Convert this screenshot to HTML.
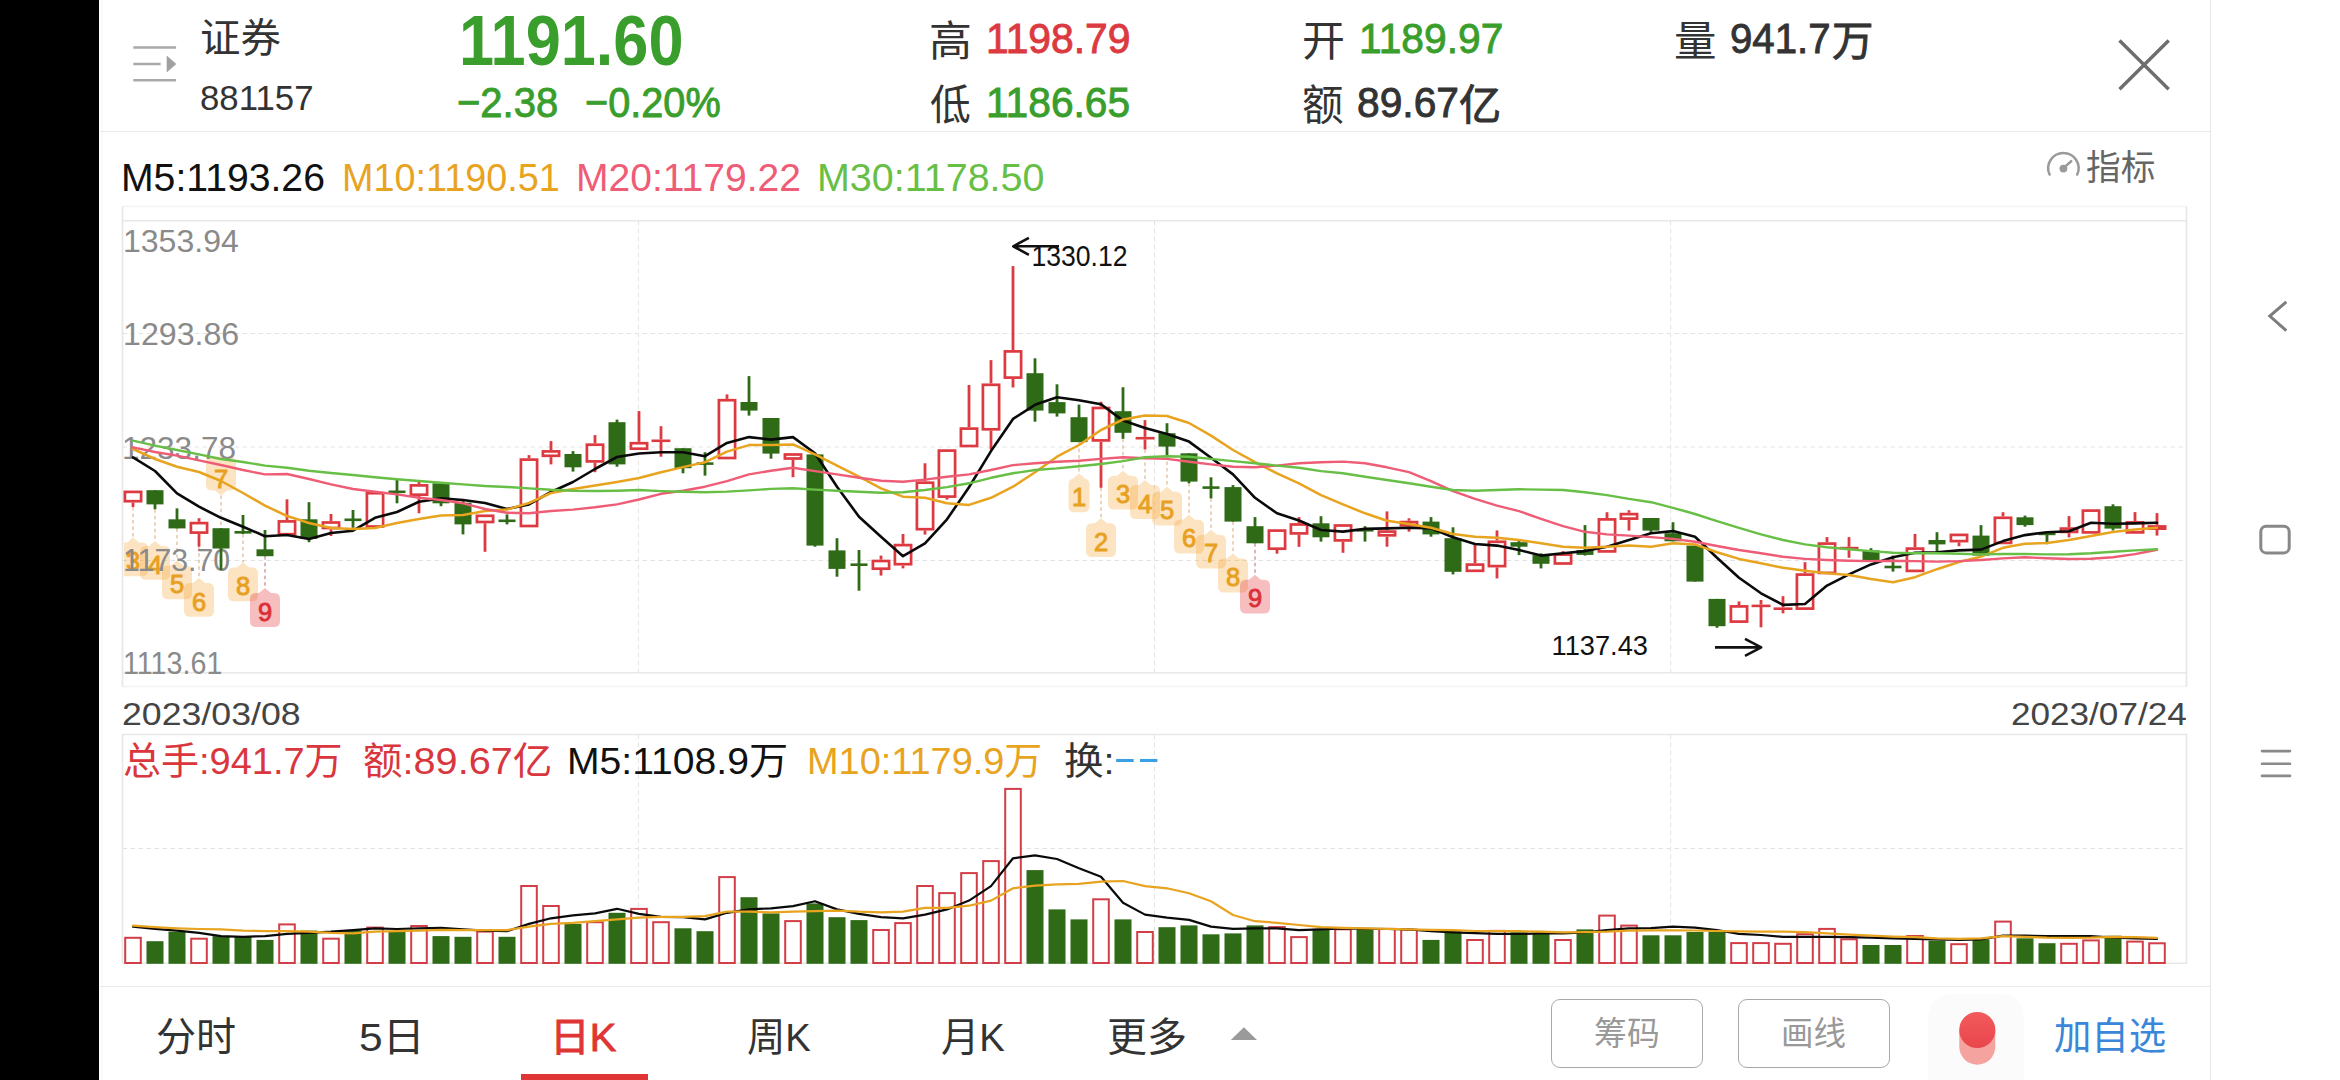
<!DOCTYPE html>
<html lang="zh-CN"><head><meta charset="utf-8"><title>证券 881157 日K</title>
<style>
*{margin:0;padding:0;box-sizing:border-box}
html,body{width:2340px;height:1080px;overflow:hidden;background:#fff}
body{position:relative;font-family:"Liberation Sans","Noto Sans CJK SC",sans-serif;color:#333}
.left{position:absolute;left:0;top:0;width:99px;height:1080px;background:#000}
.edge{position:absolute;left:100.5px;top:0;width:2px;height:1080px;background:#fafafa}
.hline{position:absolute;left:100px;width:2110px;height:1.6px;background:#e9e9e9}
.vline{position:absolute;left:2209.5px;top:0;width:1.6px;height:1080px;background:#e6e6e6}
.chart{position:absolute;left:0;top:0}
.chart text{font-family:"Liberation Sans","Noto Sans CJK SC",sans-serif}
.t{position:absolute;white-space:nowrap;line-height:1;transform-origin:0 0;display:block}
.t.b{font-weight:700}
.t.m{-webkit-text-stroke:0.9px currentColor}
.btn{position:absolute;top:998.5px;height:69px;width:152px;border:1.6px solid #a9a9a9;border-radius:9px;background:#fff}
.tabline{position:absolute;left:520.5px;top:1074px;width:127px;height:6px;background:#e03535}
.ico{position:absolute;left:0;top:0}
</style></head>
<body>
<div class="left"></div><div class="edge"></div>
<div class="hline" style="top:130.5px"></div>
<div class="hline" style="top:985.5px"></div>
<div class="vline"></div>
<svg class="chart" width="2340" height="1080" viewBox="0 0 2340 1080">
<g fill="none" stroke="#f3f3f3" stroke-width="1.5"><path d="M122.5 206.5H2186.5V686.5H122.5Z"/></g>
<g fill="none" stroke="#e8e8e8" stroke-width="1.6"><path d="M122.5 220.8H2186.5M122.5 672.8H2186.5M122.5 206.5V686.5M2186.5 206.5V686.5"/></g>
<g fill="none" stroke="#e2e2e2" stroke-width="1" stroke-dasharray="4.5 3.5">
<path d="M122.5 333.5H2186.5"/>
<path d="M122.5 447H2186.5"/>
<path d="M122.5 560.5H2186.5"/>
<path d="M638.4 220.8V672.8"/>
<path d="M638.4 734.5V963"/>
<path d="M1154.5 220.8V672.8"/>
<path d="M1154.5 734.5V963"/>
<path d="M1670.6 220.8V672.8"/>
<path d="M1670.6 734.5V963"/>
<path d="M122.5 848.5H2186.5"/>
</g>
<g fill="none" stroke="#e8e8e8" stroke-width="1.6"><path d="M122.5 734.5H2186.5V963.2H122.5Z"/></g>
<defs><clipPath id="cp"><rect x="124" y="221.5" width="2062" height="451"/></clipPath></defs>
<g class="td" clip-path="url(#cp)">
<path d="M133 507V537.5" stroke="#d9a878" stroke-width="1" stroke-dasharray="3.5 3" fill="none"/>
<path d="M155 509.3V541" stroke="#d9a878" stroke-width="1" stroke-dasharray="3.5 3" fill="none"/>
<path d="M177 528.4V560.5" stroke="#d9a878" stroke-width="1" stroke-dasharray="3.5 3" fill="none"/>
<path d="M199 546.7V578" stroke="#d9a878" stroke-width="1" stroke-dasharray="3.5 3" fill="none"/>
<path d="M221 495.6V528.2" stroke="#d9a878" stroke-width="1" stroke-dasharray="3.5 3" fill="none"/>
<path d="M243 534V562.5" stroke="#d9a878" stroke-width="1" stroke-dasharray="3.5 3" fill="none"/>
<path d="M265 556.2V588.1" stroke="#c0666a" stroke-width="1" stroke-dasharray="3.5 3" fill="none"/>
<path d="M1079 442.1V473.4" stroke="#d9a878" stroke-width="1" stroke-dasharray="3.5 3" fill="none"/>
<path d="M1101 487.8V518.3" stroke="#d9a878" stroke-width="1" stroke-dasharray="3.5 3" fill="none"/>
<path d="M1123 438.8V470.8" stroke="#d9a878" stroke-width="1" stroke-dasharray="3.5 3" fill="none"/>
<path d="M1145 449.4V480.1" stroke="#d9a878" stroke-width="1" stroke-dasharray="3.5 3" fill="none"/>
<path d="M1167 455V486.7" stroke="#d9a878" stroke-width="1" stroke-dasharray="3.5 3" fill="none"/>
<path d="M1189 483.3V514.8" stroke="#d9a878" stroke-width="1" stroke-dasharray="3.5 3" fill="none"/>
<path d="M1211 498.4V529.8" stroke="#d9a878" stroke-width="1" stroke-dasharray="3.5 3" fill="none"/>
<path d="M1233 521.6V553.6" stroke="#d9a878" stroke-width="1" stroke-dasharray="3.5 3" fill="none"/>
<path d="M1255 543.3V574.7" stroke="#c0666a" stroke-width="1" stroke-dasharray="3.5 3" fill="none"/>
<path d="M124 542.5H127L133 537.5L139 542.5H142Q148 542.5 148 548.5V570.3Q148 576.3 142 576.3H124Q118 576.3 118 570.3V548.5Q118 542.5 124 542.5Z" fill="rgba(247,168,62,0.32)"/>
<text x="133" y="570" text-anchor="middle" font-size="25.5" font-weight="400" fill="#e8a020" stroke="#e8a020" stroke-width="0.9">3</text>
<path d="M146 546H149L155 541L161 546H164Q170 546 170 552V573.8Q170 579.8 164 579.8H146Q140 579.8 140 573.8V552Q140 546 146 546Z" fill="rgba(247,168,62,0.32)"/>
<text x="155" y="573.5" text-anchor="middle" font-size="25.5" font-weight="400" fill="#e8a020" stroke="#e8a020" stroke-width="0.9">4</text>
<path d="M168 565.5H171L177 560.5L183 565.5H186Q192 565.5 192 571.5V593.3Q192 599.3 186 599.3H168Q162 599.3 162 593.3V571.5Q162 565.5 168 565.5Z" fill="rgba(247,168,62,0.32)"/>
<text x="177" y="593" text-anchor="middle" font-size="25.5" font-weight="400" fill="#e8a020" stroke="#e8a020" stroke-width="0.9">5</text>
<path d="M190 583H193L199 578L205 583H208Q214 583 214 589V610.8Q214 616.8 208 616.8H190Q184 616.8 184 610.8V589Q184 583 190 583Z" fill="rgba(247,168,62,0.32)"/>
<text x="199" y="610.5" text-anchor="middle" font-size="25.5" font-weight="400" fill="#e8a020" stroke="#e8a020" stroke-width="0.9">6</text>
<path d="M212 456.8H230Q236 456.8 236 462.8V484.6Q236 490.6 230 490.6H227L221 495.6L215 490.6H212Q206 490.6 206 484.6V462.8Q206 456.8 212 456.8Z" fill="rgba(247,168,62,0.32)"/>
<text x="221" y="488.4" text-anchor="middle" font-size="25.5" font-weight="400" fill="#e8a020" stroke="#e8a020" stroke-width="0.9">7</text>
<path d="M234 567.5H237L243 562.5L249 567.5H252Q258 567.5 258 573.5V595.3Q258 601.3 252 601.3H234Q228 601.3 228 595.3V573.5Q228 567.5 234 567.5Z" fill="rgba(247,168,62,0.32)"/>
<text x="243" y="595" text-anchor="middle" font-size="25.5" font-weight="400" fill="#e8a020" stroke="#e8a020" stroke-width="0.9">8</text>
<path d="M256 593.1H259L265 588.1L271 593.1H274Q280 593.1 280 599.1V620.9Q280 626.9 274 626.9H256Q250 626.9 250 620.9V599.1Q250 593.1 256 593.1Z" fill="rgba(226,52,56,0.32)"/>
<text x="265" y="620.6" text-anchor="middle" font-size="25.5" font-weight="400" fill="#dc3038" stroke="#dc3038" stroke-width="0.9">9</text>
<path d="M1074.5 478.4H1073L1079 473.4L1085 478.4H1083.5Q1089.5 478.4 1089.5 484.4V506.2Q1089.5 512.2 1083.5 512.2H1074.5Q1068.5 512.2 1068.5 506.2V484.4Q1068.5 478.4 1074.5 478.4Z" fill="rgba(247,168,62,0.32)"/>
<text x="1079" y="505.9" text-anchor="middle" font-size="25.5" font-weight="400" fill="#e8a020" stroke="#e8a020" stroke-width="0.9">1</text>
<path d="M1092 523.3H1095L1101 518.3L1107 523.3H1110Q1116 523.3 1116 529.3V551.1Q1116 557.1 1110 557.1H1092Q1086 557.1 1086 551.1V529.3Q1086 523.3 1092 523.3Z" fill="rgba(247,168,62,0.32)"/>
<text x="1101" y="550.8" text-anchor="middle" font-size="25.5" font-weight="400" fill="#e8a020" stroke="#e8a020" stroke-width="0.9">2</text>
<path d="M1114 475.8H1117L1123 470.8L1129 475.8H1132Q1138 475.8 1138 481.8V503.6Q1138 509.6 1132 509.6H1114Q1108 509.6 1108 503.6V481.8Q1108 475.8 1114 475.8Z" fill="rgba(247,168,62,0.32)"/>
<text x="1123" y="503.3" text-anchor="middle" font-size="25.5" font-weight="400" fill="#e8a020" stroke="#e8a020" stroke-width="0.9">3</text>
<path d="M1136 485.1H1139L1145 480.1L1151 485.1H1154Q1160 485.1 1160 491.1V512.9Q1160 518.9 1154 518.9H1136Q1130 518.9 1130 512.9V491.1Q1130 485.1 1136 485.1Z" fill="rgba(247,168,62,0.32)"/>
<text x="1145" y="512.6" text-anchor="middle" font-size="25.5" font-weight="400" fill="#e8a020" stroke="#e8a020" stroke-width="0.9">4</text>
<path d="M1158 491.7H1161L1167 486.7L1173 491.7H1176Q1182 491.7 1182 497.7V519.5Q1182 525.5 1176 525.5H1158Q1152 525.5 1152 519.5V497.7Q1152 491.7 1158 491.7Z" fill="rgba(247,168,62,0.32)"/>
<text x="1167" y="519.2" text-anchor="middle" font-size="25.5" font-weight="400" fill="#e8a020" stroke="#e8a020" stroke-width="0.9">5</text>
<path d="M1180 519.8H1183L1189 514.8L1195 519.8H1198Q1204 519.8 1204 525.8V547.6Q1204 553.6 1198 553.6H1180Q1174 553.6 1174 547.6V525.8Q1174 519.8 1180 519.8Z" fill="rgba(247,168,62,0.32)"/>
<text x="1189" y="547.3" text-anchor="middle" font-size="25.5" font-weight="400" fill="#e8a020" stroke="#e8a020" stroke-width="0.9">6</text>
<path d="M1202 534.8H1205L1211 529.8L1217 534.8H1220Q1226 534.8 1226 540.8V562.6Q1226 568.6 1220 568.6H1202Q1196 568.6 1196 562.6V540.8Q1196 534.8 1202 534.8Z" fill="rgba(247,168,62,0.32)"/>
<text x="1211" y="562.3" text-anchor="middle" font-size="25.5" font-weight="400" fill="#e8a020" stroke="#e8a020" stroke-width="0.9">7</text>
<path d="M1224 558.6H1227L1233 553.6L1239 558.6H1242Q1248 558.6 1248 564.6V586.4Q1248 592.4 1242 592.4H1224Q1218 592.4 1218 586.4V564.6Q1218 558.6 1224 558.6Z" fill="rgba(247,168,62,0.32)"/>
<text x="1233" y="586.1" text-anchor="middle" font-size="25.5" font-weight="400" fill="#e8a020" stroke="#e8a020" stroke-width="0.9">8</text>
<path d="M1246 579.7H1249L1255 574.7L1261 579.7H1264Q1270 579.7 1270 585.7V607.5Q1270 613.5 1264 613.5H1246Q1240 613.5 1240 607.5V585.7Q1240 579.7 1246 579.7Z" fill="rgba(226,52,56,0.32)"/>
<text x="1255" y="607.2" text-anchor="middle" font-size="25.5" font-weight="400" fill="#dc3038" stroke="#dc3038" stroke-width="0.9">9</text>
</g>
</svg>
<div class="yaxis">
<span id="t_y1" class="t" style="left:122.80px;top:227.18px;font-size:30.80px;color:#8a8a8a;transform:scaleX(1.0397);">1353.94</span>
<span id="t_y2" class="t" style="left:122.80px;top:319.62px;font-size:30.80px;color:#8a8a8a;transform:scaleX(1.0441);">1293.86</span>
<span id="t_y3" class="t" style="left:122.30px;top:433.57px;font-size:30.80px;color:#8a8a8a;transform:scaleX(1.0237);">1233.78</span>
<span id="t_y4" class="t" style="left:122.55px;top:546.23px;font-size:30.80px;color:#8a8a8a;transform:scaleX(0.9832);">1173.70</span>
<span id="t_y5" class="t" style="left:122.55px;top:649.33px;font-size:30.80px;color:#8a8a8a;transform:scaleX(0.9305);">1113.61</span>
</div>
<svg class="chart" width="2340" height="1080" viewBox="0 0 2340 1080">
<g class="k">
<path d="M133 502.5V507" stroke="#dc3a40" stroke-width="2.8"/>
<rect x="124.9" y="491.9" width="16.2" height="9.3" fill="#fff" stroke="#dc3a40" stroke-width="2.7"/>
<path d="M155 490.2V509.3" stroke="#2f6b17" stroke-width="2.8"/>
<rect x="146.5" y="490.2" width="17" height="14.2" fill="#2f6b17"/>
<path d="M177 508.4V528.4" stroke="#2f6b17" stroke-width="2.8"/>
<rect x="168.5" y="519.3" width="17" height="9.1" fill="#2f6b17"/>
<path d="M199 518.2V521.8" stroke="#dc3a40" stroke-width="2.8"/>
<path d="M199 534V546.7" stroke="#dc3a40" stroke-width="2.8"/>
<rect x="190.9" y="523.1" width="16.2" height="9.5" fill="#fff" stroke="#dc3a40" stroke-width="2.7"/>
<path d="M221 528.2V569.9" stroke="#2f6b17" stroke-width="2.8"/>
<rect x="212.5" y="528.2" width="17" height="20.3" fill="#2f6b17"/>
<path d="M243 515V534" stroke="#2f6b17" stroke-width="2.8"/>
<rect x="234.5" y="531" width="17" height="2.6" fill="#2f6b17"/>
<path d="M265 530V556.2" stroke="#2f6b17" stroke-width="2.8"/>
<rect x="256.5" y="549.3" width="17" height="6.9" fill="#2f6b17"/>
<path d="M287 499.3V520" stroke="#dc3a40" stroke-width="2.8"/>
<rect x="278.9" y="521.4" width="16.2" height="12.8" fill="#fff" stroke="#dc3a40" stroke-width="2.7"/>
<path d="M309 502.2V542.2" stroke="#2f6b17" stroke-width="2.8"/>
<rect x="300.5" y="519.3" width="17" height="19.6" fill="#2f6b17"/>
<path d="M331 514V521.1" stroke="#dc3a40" stroke-width="2.8"/>
<path d="M331 529.3V536" stroke="#dc3a40" stroke-width="2.8"/>
<rect x="322.9" y="522.5" width="16.2" height="5.5" fill="#fff" stroke="#dc3a40" stroke-width="2.7"/>
<path d="M353 510V527.8" stroke="#2f6b17" stroke-width="2.8"/>
<rect x="344.5" y="518.5" width="17" height="2.6" fill="#2f6b17"/>
<rect x="366.9" y="493.2" width="16.2" height="33.3" fill="#fff" stroke="#dc3a40" stroke-width="2.7"/>
<path d="M397 480V503.3" stroke="#2f6b17" stroke-width="2.8"/>
<rect x="388.5" y="490.5" width="17" height="2.6" fill="#2f6b17"/>
<path d="M419 481.1V484" stroke="#dc3a40" stroke-width="2.8"/>
<path d="M419 496V513.3" stroke="#dc3a40" stroke-width="2.8"/>
<rect x="410.9" y="485.4" width="16.2" height="9.3" fill="#fff" stroke="#dc3a40" stroke-width="2.7"/>
<path d="M441 483.3V506.2" stroke="#2f6b17" stroke-width="2.8"/>
<rect x="432.5" y="483.3" width="17" height="20" fill="#2f6b17"/>
<path d="M463 501.1V534.4" stroke="#2f6b17" stroke-width="2.8"/>
<rect x="454.5" y="502.7" width="17" height="21.7" fill="#2f6b17"/>
<path d="M485 523.3V551.8" stroke="#dc3a40" stroke-width="2.8"/>
<rect x="476.9" y="515.8" width="16.2" height="6.2" fill="#fff" stroke="#dc3a40" stroke-width="2.7"/>
<path d="M507 514.4V524.4" stroke="#2f6b17" stroke-width="2.8"/>
<rect x="498.5" y="519.5" width="17" height="2.6" fill="#2f6b17"/>
<path d="M529 455.1V458.2" stroke="#dc3a40" stroke-width="2.8"/>
<rect x="520.9" y="459.6" width="16.2" height="66.4" fill="#fff" stroke="#dc3a40" stroke-width="2.7"/>
<path d="M551 441.1V450" stroke="#dc3a40" stroke-width="2.8"/>
<path d="M551 457.1V464.4" stroke="#dc3a40" stroke-width="2.8"/>
<rect x="542.9" y="451.4" width="16.2" height="4.4" fill="#fff" stroke="#dc3a40" stroke-width="2.7"/>
<path d="M573 451.1V471.6" stroke="#2f6b17" stroke-width="2.8"/>
<rect x="564.5" y="454" width="17" height="13.3" fill="#2f6b17"/>
<path d="M595 435.1V443.3" stroke="#dc3a40" stroke-width="2.8"/>
<path d="M595 462.7V472.2" stroke="#dc3a40" stroke-width="2.8"/>
<rect x="586.9" y="444.7" width="16.2" height="16.7" fill="#fff" stroke="#dc3a40" stroke-width="2.7"/>
<path d="M617 419.6V466.7" stroke="#2f6b17" stroke-width="2.8"/>
<rect x="608.5" y="422.2" width="17" height="42.2" fill="#2f6b17"/>
<path d="M639 411.1V441.8" stroke="#dc3a40" stroke-width="2.8"/>
<rect x="630.9" y="443.2" width="16.2" height="5.5" fill="#fff" stroke="#dc3a40" stroke-width="2.7"/>
<path d="M661 426.2V439.5" stroke="#dc3a40" stroke-width="2.8"/>
<path d="M661 441.5V456.7" stroke="#dc3a40" stroke-width="2.8"/>
<rect x="651.5" y="439.5" width="18.9" height="2.6" fill="#dc3a40"/>
<path d="M683 448.2V473.3" stroke="#2f6b17" stroke-width="2.8"/>
<rect x="674.5" y="448.2" width="17" height="20" fill="#2f6b17"/>
<path d="M705 452.2V475.6" stroke="#2f6b17" stroke-width="2.8"/>
<rect x="696.5" y="462.3" width="17" height="2.6" fill="#2f6b17"/>
<path d="M727 394.4V398.9" stroke="#dc3a40" stroke-width="2.8"/>
<rect x="718.9" y="400.2" width="16.2" height="57.8" fill="#fff" stroke="#dc3a40" stroke-width="2.7"/>
<path d="M749 376.1V415.6" stroke="#2f6b17" stroke-width="2.8"/>
<rect x="740.5" y="402" width="17" height="8.6" fill="#2f6b17"/>
<path d="M771 418V458.7" stroke="#2f6b17" stroke-width="2.8"/>
<rect x="762.5" y="418" width="17" height="35.6" fill="#2f6b17"/>
<path d="M793 459.8V477.2" stroke="#dc3a40" stroke-width="2.8"/>
<rect x="784.9" y="454.5" width="16.2" height="4" fill="#fff" stroke="#dc3a40" stroke-width="2.7"/>
<path d="M815 454.4V546.7" stroke="#2f6b17" stroke-width="2.8"/>
<rect x="806.5" y="454.4" width="17" height="91.2" fill="#2f6b17"/>
<path d="M837 538.2V576.7" stroke="#2f6b17" stroke-width="2.8"/>
<rect x="828.5" y="550.4" width="17" height="18.5" fill="#2f6b17"/>
<path d="M859 550V590.7" stroke="#2f6b17" stroke-width="2.8"/>
<rect x="850.5" y="563.4" width="17" height="2.6" fill="#2f6b17"/>
<path d="M881 555.6V559.6" stroke="#dc3a40" stroke-width="2.8"/>
<path d="M881 570V575.6" stroke="#dc3a40" stroke-width="2.8"/>
<rect x="872.9" y="561" width="16.2" height="7.7" fill="#fff" stroke="#dc3a40" stroke-width="2.7"/>
<path d="M903 534V543.8" stroke="#dc3a40" stroke-width="2.8"/>
<path d="M903 565.6V568.4" stroke="#dc3a40" stroke-width="2.8"/>
<rect x="894.9" y="545.1" width="16.2" height="19.1" fill="#fff" stroke="#dc3a40" stroke-width="2.7"/>
<path d="M925 463.3V481.3" stroke="#dc3a40" stroke-width="2.8"/>
<path d="M925 530.5V534.6" stroke="#dc3a40" stroke-width="2.8"/>
<rect x="916.9" y="482.7" width="16.2" height="46.5" fill="#fff" stroke="#dc3a40" stroke-width="2.7"/>
<path d="M947 497.9V499.6" stroke="#dc3a40" stroke-width="2.8"/>
<rect x="938.9" y="450.6" width="16.2" height="46" fill="#fff" stroke="#dc3a40" stroke-width="2.7"/>
<path d="M969 385V427.2" stroke="#dc3a40" stroke-width="2.8"/>
<rect x="960.9" y="428.6" width="16.2" height="17.4" fill="#fff" stroke="#dc3a40" stroke-width="2.7"/>
<path d="M991 360.1V383.4" stroke="#dc3a40" stroke-width="2.8"/>
<path d="M991 430.6V449.4" stroke="#dc3a40" stroke-width="2.8"/>
<rect x="982.9" y="384.8" width="16.2" height="44.5" fill="#fff" stroke="#dc3a40" stroke-width="2.7"/>
<path d="M1013 266.1V350" stroke="#dc3a40" stroke-width="2.8"/>
<path d="M1013 378.9V387.5" stroke="#dc3a40" stroke-width="2.8"/>
<rect x="1004.9" y="351.4" width="16.2" height="26.2" fill="#fff" stroke="#dc3a40" stroke-width="2.7"/>
<path d="M1035 358.3V421.7" stroke="#2f6b17" stroke-width="2.8"/>
<rect x="1026.5" y="373.2" width="17" height="37.4" fill="#2f6b17"/>
<path d="M1057 384.3V416.6" stroke="#2f6b17" stroke-width="2.8"/>
<rect x="1048.5" y="402.1" width="17" height="11.3" fill="#2f6b17"/>
<path d="M1079 404.6V442.1" stroke="#2f6b17" stroke-width="2.8"/>
<rect x="1070.5" y="417.2" width="17" height="24.9" fill="#2f6b17"/>
<path d="M1101 401.7V406.6" stroke="#dc3a40" stroke-width="2.8"/>
<path d="M1101 441.7V487.8" stroke="#dc3a40" stroke-width="2.8"/>
<rect x="1092.9" y="408" width="16.2" height="32.4" fill="#fff" stroke="#dc3a40" stroke-width="2.7"/>
<path d="M1123 387.2V438.8" stroke="#2f6b17" stroke-width="2.8"/>
<rect x="1114.5" y="411.2" width="17" height="21.6" fill="#2f6b17"/>
<path d="M1145 420.1V436.9" stroke="#dc3a40" stroke-width="2.8"/>
<path d="M1145 439.4V449.4" stroke="#dc3a40" stroke-width="2.8"/>
<rect x="1135.6" y="436.9" width="18.9" height="2.6" fill="#dc3a40"/>
<path d="M1167 423.2V455" stroke="#2f6b17" stroke-width="2.8"/>
<rect x="1158.5" y="433.2" width="17" height="13.4" fill="#2f6b17"/>
<path d="M1189 453.3V483.3" stroke="#2f6b17" stroke-width="2.8"/>
<rect x="1180.5" y="453.3" width="17" height="28.3" fill="#2f6b17"/>
<path d="M1211 477.3V498.4" stroke="#2f6b17" stroke-width="2.8"/>
<rect x="1202.5" y="486.3" width="17" height="2.6" fill="#2f6b17"/>
<path d="M1233 485.1V521.6" stroke="#2f6b17" stroke-width="2.8"/>
<rect x="1224.5" y="487.1" width="17" height="34.5" fill="#2f6b17"/>
<path d="M1255 517.1V543.3" stroke="#2f6b17" stroke-width="2.8"/>
<rect x="1246.5" y="526.2" width="17" height="17.1" fill="#2f6b17"/>
<path d="M1277 550V553.7" stroke="#dc3a40" stroke-width="2.8"/>
<rect x="1268.9" y="530.6" width="16.2" height="18.1" fill="#fff" stroke="#dc3a40" stroke-width="2.7"/>
<path d="M1299 517.1V523.1" stroke="#dc3a40" stroke-width="2.8"/>
<path d="M1299 534.7V546.8" stroke="#dc3a40" stroke-width="2.8"/>
<rect x="1290.9" y="524.5" width="16.2" height="8.9" fill="#fff" stroke="#dc3a40" stroke-width="2.7"/>
<path d="M1321 516.2V541.6" stroke="#2f6b17" stroke-width="2.8"/>
<rect x="1312.5" y="523.3" width="17" height="14" fill="#2f6b17"/>
<path d="M1343 541.7V552.8" stroke="#dc3a40" stroke-width="2.8"/>
<rect x="1334.9" y="525.5" width="16.2" height="14.9" fill="#fff" stroke="#dc3a40" stroke-width="2.7"/>
<path d="M1365 526.2V541.6" stroke="#2f6b17" stroke-width="2.8"/>
<rect x="1356.5" y="529" width="17" height="2.6" fill="#2f6b17"/>
<path d="M1387 511.4V530.3" stroke="#dc3a40" stroke-width="2.8"/>
<path d="M1387 536.7V546.7" stroke="#dc3a40" stroke-width="2.8"/>
<rect x="1378.9" y="531.6" width="16.2" height="3.7" fill="#fff" stroke="#dc3a40" stroke-width="2.7"/>
<path d="M1409 518.3V520.8" stroke="#dc3a40" stroke-width="2.8"/>
<path d="M1409 526.7V531.7" stroke="#dc3a40" stroke-width="2.8"/>
<rect x="1400.9" y="522.1" width="16.2" height="3.2" fill="#fff" stroke="#dc3a40" stroke-width="2.7"/>
<path d="M1431 517.1V536.7" stroke="#2f6b17" stroke-width="2.8"/>
<rect x="1422.5" y="521.6" width="17" height="12.8" fill="#2f6b17"/>
<path d="M1453 527.3V574.4" stroke="#2f6b17" stroke-width="2.8"/>
<rect x="1444.5" y="538.2" width="17" height="33.6" fill="#2f6b17"/>
<path d="M1475 544.4V563.3" stroke="#dc3a40" stroke-width="2.8"/>
<rect x="1466.9" y="564.6" width="16.2" height="6.2" fill="#fff" stroke="#dc3a40" stroke-width="2.7"/>
<path d="M1497 530.4V540.4" stroke="#dc3a40" stroke-width="2.8"/>
<path d="M1497 567.4V578.4" stroke="#dc3a40" stroke-width="2.8"/>
<rect x="1488.9" y="541.8" width="16.2" height="24.3" fill="#fff" stroke="#dc3a40" stroke-width="2.7"/>
<path d="M1519 540.4V555.1" stroke="#2f6b17" stroke-width="2.8"/>
<rect x="1510.5" y="542.2" width="17" height="4.5" fill="#2f6b17"/>
<path d="M1541 553.3V568.4" stroke="#2f6b17" stroke-width="2.8"/>
<rect x="1532.5" y="555.1" width="17" height="8.7" fill="#2f6b17"/>
<path d="M1563 551.1V553.3" stroke="#dc3a40" stroke-width="2.8"/>
<rect x="1554.9" y="554.6" width="16.2" height="8.9" fill="#fff" stroke="#dc3a40" stroke-width="2.7"/>
<path d="M1585 525.1V555.6" stroke="#2f6b17" stroke-width="2.8"/>
<rect x="1576.5" y="550" width="17" height="4.9" fill="#2f6b17"/>
<path d="M1607 512.2V518" stroke="#dc3a40" stroke-width="2.8"/>
<rect x="1598.9" y="519.4" width="16.2" height="32" fill="#fff" stroke="#dc3a40" stroke-width="2.7"/>
<path d="M1629 510.2V512.8" stroke="#dc3a40" stroke-width="2.8"/>
<path d="M1629 520V530.6" stroke="#dc3a40" stroke-width="2.8"/>
<rect x="1620.9" y="514.1" width="16.2" height="4.5" fill="#fff" stroke="#dc3a40" stroke-width="2.7"/>
<path d="M1651 518V532.6" stroke="#2f6b17" stroke-width="2.8"/>
<rect x="1642.5" y="518" width="17" height="12.6" fill="#2f6b17"/>
<path d="M1673 522.2V541.3" stroke="#2f6b17" stroke-width="2.8"/>
<rect x="1664.5" y="533.2" width="17" height="8.1" fill="#2f6b17"/>
<path d="M1695 545.6V581.6" stroke="#2f6b17" stroke-width="2.8"/>
<rect x="1686.5" y="545.6" width="17" height="36" fill="#2f6b17"/>
<path d="M1717 598.9V627.8" stroke="#2f6b17" stroke-width="2.8"/>
<rect x="1708.5" y="598.9" width="17" height="27.3" fill="#2f6b17"/>
<path d="M1739 601.4V605" stroke="#dc3a40" stroke-width="2.8"/>
<rect x="1730.9" y="606.4" width="16.2" height="15.2" fill="#fff" stroke="#dc3a40" stroke-width="2.7"/>
<path d="M1761 600V604.6" stroke="#dc3a40" stroke-width="2.8"/>
<path d="M1761 606.6V627.3" stroke="#dc3a40" stroke-width="2.8"/>
<rect x="1751.6" y="604.6" width="18.9" height="2.6" fill="#dc3a40"/>
<path d="M1783 596.2V607.4" stroke="#dc3a40" stroke-width="2.8"/>
<path d="M1783 609.4V613.3" stroke="#dc3a40" stroke-width="2.8"/>
<rect x="1773.6" y="607.4" width="18.9" height="2.6" fill="#dc3a40"/>
<path d="M1805 562.2V573.3" stroke="#dc3a40" stroke-width="2.8"/>
<rect x="1796.9" y="574.6" width="16.2" height="34" fill="#fff" stroke="#dc3a40" stroke-width="2.7"/>
<path d="M1827 537.1V542.2" stroke="#dc3a40" stroke-width="2.8"/>
<rect x="1818.9" y="543.6" width="16.2" height="29.3" fill="#fff" stroke="#dc3a40" stroke-width="2.7"/>
<path d="M1849 537.1V546.8" stroke="#dc3a40" stroke-width="2.8"/>
<path d="M1849 548.8V557.8" stroke="#dc3a40" stroke-width="2.8"/>
<rect x="1839.6" y="546.8" width="18.9" height="2.6" fill="#dc3a40"/>
<path d="M1871 548.2V560" stroke="#2f6b17" stroke-width="2.8"/>
<rect x="1862.5" y="550.4" width="17" height="9.6" fill="#2f6b17"/>
<path d="M1893 555.6V571.6" stroke="#2f6b17" stroke-width="2.8"/>
<rect x="1884.5" y="565.7" width="17" height="2.6" fill="#2f6b17"/>
<path d="M1915 533.9V547.3" stroke="#dc3a40" stroke-width="2.8"/>
<rect x="1906.9" y="548.6" width="16.2" height="22.3" fill="#fff" stroke="#dc3a40" stroke-width="2.7"/>
<path d="M1937 532.2V552.2" stroke="#2f6b17" stroke-width="2.8"/>
<rect x="1928.5" y="540" width="17" height="4.4" fill="#2f6b17"/>
<path d="M1959 542.4V546.2" stroke="#dc3a40" stroke-width="2.8"/>
<rect x="1950.9" y="534.9" width="16.2" height="6.2" fill="#fff" stroke="#dc3a40" stroke-width="2.7"/>
<path d="M1981 525.1V555.6" stroke="#2f6b17" stroke-width="2.8"/>
<rect x="1972.5" y="535.6" width="17" height="20" fill="#2f6b17"/>
<path d="M2003 512.2V516.4" stroke="#dc3a40" stroke-width="2.8"/>
<rect x="1994.9" y="517.8" width="16.2" height="25.1" fill="#fff" stroke="#dc3a40" stroke-width="2.7"/>
<path d="M2025 515.6V526.7" stroke="#2f6b17" stroke-width="2.8"/>
<rect x="2016.5" y="517.3" width="17" height="7.8" fill="#2f6b17"/>
<path d="M2047 532.6V544.2" stroke="#2f6b17" stroke-width="2.8"/>
<rect x="2038.5" y="532.6" width="17" height="2.6" fill="#2f6b17"/>
<path d="M2069 516.1V527.2" stroke="#dc3a40" stroke-width="2.8"/>
<path d="M2069 533.2V537.4" stroke="#dc3a40" stroke-width="2.8"/>
<rect x="2060.9" y="528.6" width="16.2" height="3.3" fill="#fff" stroke="#dc3a40" stroke-width="2.7"/>
<rect x="2082.9" y="510.6" width="16.2" height="21.8" fill="#fff" stroke="#dc3a40" stroke-width="2.7"/>
<path d="M2113 504.3V530.5" stroke="#2f6b17" stroke-width="2.8"/>
<rect x="2104.5" y="506.2" width="17" height="22.4" fill="#2f6b17"/>
<path d="M2135 512.1V521" stroke="#dc3a40" stroke-width="2.8"/>
<rect x="2126.9" y="522.4" width="16.2" height="10" fill="#fff" stroke="#dc3a40" stroke-width="2.7"/>
<path d="M2157 513.1V525.1" stroke="#dc3a40" stroke-width="2.8"/>
<path d="M2157 530V535.6" stroke="#dc3a40" stroke-width="2.8"/>
<rect x="2147.6" y="525.1" width="18.9" height="4.9" fill="#dc3a40"/>
</g>
<polyline points="133,457.3 155,471 177,493.3 199,506.7 221,517.8 243,526.7 265,536.2 287,535 309,539 331,533 353,530.7 375,517.8 397,512 419,501.8 441,498.4 463,500 485,503 507,509 529,504.4 551,492 573,482 595,469 617,457 639,453.5 661,452.2 683,452.2 705,456.2 727,442.9 749,437.1 771,439.6 793,437.1 815,453.3 837,486.7 859,516.7 881,536.7 903,556.2 925,543.3 947,519.3 969,487.3 991,451.1 1013,418.9 1035,404.8 1057,397.3 1079,400.3 1101,404.3 1123,420.6 1145,428 1167,434 1189,441.6 1211,457.8 1233,474.4 1255,497.8 1277,513.3 1299,520.5 1321,530 1343,531.6 1365,528.9 1387,528.4 1409,527.8 1431,528.4 1453,537.3 1475,544 1497,545.6 1519,550 1541,555.6 1563,553.3 1585,551.1 1607,546.7 1629,540 1651,533.3 1673,531.1 1695,536.7 1717,557.8 1739,577.8 1761,593.3 1783,604.9 1805,604 1827,585.6 1849,574.4 1871,564.4 1893,557.3 1915,552.7 1937,552.2 1959,550.4 1981,549.6 2003,541.1 2025,535.1 2047,532.2 2069,531.2 2091,522.7 2113,523.7 2135,523.4 2157,522.8" fill="none" stroke="#0a0a0a" stroke-width="2.6" stroke-linejoin="round" stroke-linecap="round"/>
<polyline points="133,449 155,459 177,466.7 199,472 221,481 243,493 265,505.6 287,516 309,523 331,528 353,529 375,528 397,523 419,519 441,515.6 463,515 485,511 507,509.6 529,503 551,493 573,489 595,485.6 617,482 639,478 661,472.2 683,467.1 705,462.2 727,451.6 749,445.1 771,445.1 793,444.4 815,454.4 837,465.6 859,476.7 881,488.4 903,496.7 925,497.8 947,503.3 969,504.9 991,497.8 1013,486.7 1035,472.2 1057,456.7 1079,445 1101,430 1123,419.5 1145,415.6 1167,416 1189,423 1211,435.6 1233,450 1255,462.2 1277,473.3 1299,483.3 1321,495.1 1343,504.4 1365,513.3 1387,520.7 1409,524 1431,527.8 1453,534 1475,536.7 1497,537.8 1519,540 1541,543.3 1563,546.7 1585,547.8 1607,546.7 1629,545.6 1651,546.7 1673,543.3 1695,544.4 1717,552.2 1739,558.9 1761,563.3 1783,567.8 1805,570.7 1827,573.3 1849,575.1 1871,578.9 1893,582.2 1915,577.2 1937,569.2 1959,562 1981,556.7 2003,547.8 2025,543.7 2047,543 2069,540 2091,536 2113,532 2135,529.5 2157,527.7" fill="none" stroke="#e8a31f" stroke-width="2.5" stroke-linejoin="round" stroke-linecap="round"/>
<polyline points="133,447.3 155,452 177,455.6 199,460.4 221,465 243,470 265,474.4 287,474 309,479 331,484.4 353,489 375,491.8 397,494.4 419,497.8 441,500 463,503.3 485,509 507,512.7 529,513.3 551,511 573,509.6 595,507.3 617,504.4 639,499.5 661,493.8 683,490.7 705,486.7 727,481.1 749,474.4 771,470.7 793,467.8 815,471.1 837,474.4 859,477.8 881,480.7 903,481.8 925,479.6 947,476.7 969,474.4 991,470 1013,465.1 1035,463.3 1057,461.8 1079,460.7 1101,458.9 1123,457.3 1145,458.2 1167,458.9 1189,461.8 1211,464.4 1233,466.7 1255,467.3 1277,465.6 1299,463.3 1321,462.2 1343,461.6 1365,463.3 1387,467.3 1409,472.2 1431,481.1 1453,491.1 1475,498.9 1497,505.6 1519,511.1 1541,518.9 1563,526.2 1585,531.8 1607,534.4 1629,535.6 1651,537.1 1673,538.9 1695,541.8 1717,546 1739,550 1761,553.3 1783,556.7 1805,558.9 1827,560 1849,560.7 1871,561.1 1893,560.7 1915,561.1 1937,561.6 1959,561.1 1981,560 2003,558.4 2025,557.3 2047,558.2 2069,559 2091,558.7 2113,557.3 2135,554.1 2157,549.8" fill="none" stroke="#ee5c75" stroke-width="2.4" stroke-linejoin="round" stroke-linecap="round"/>
<polyline points="133,440.7 155,445.6 177,450 199,454.4 221,459 243,462 265,465.6 287,467.8 309,470.7 331,473 353,475 375,477.3 397,479.3 419,481 441,482.7 463,484.4 485,486 507,487 529,488.4 551,489.8 573,490.7 595,491 617,490.7 639,490 661,491.1 683,491.8 705,492.2 727,491.6 749,490.4 771,488.9 793,488.2 815,489.6 837,490.7 859,491.8 881,492.7 903,492.2 925,490 947,487.1 969,483.3 991,477.8 1013,473.3 1035,470 1057,468.4 1079,466.2 1101,464 1123,461.1 1145,457.3 1167,456.2 1189,456.7 1211,458.9 1233,461.1 1255,463.3 1277,465.6 1299,467.8 1321,471.1 1343,473.3 1365,476.7 1387,480 1409,483.3 1431,486.7 1453,490 1475,490.7 1497,490 1519,489.3 1541,489.6 1563,490 1585,492.2 1607,495.1 1629,498.9 1651,502.2 1673,507.8 1695,514 1717,521.1 1739,527.8 1761,534.4 1783,540 1805,544.4 1827,547.3 1849,549.3 1871,551.1 1893,552.7 1915,553.3 1937,553.3 1959,553.8 1981,554.4 2003,554 2025,554 2047,554.4 2069,554.2 2091,553.3 2113,551.8 2135,550.4 2157,549.3" fill="none" stroke="#67bf45" stroke-width="2.4" stroke-linejoin="round" stroke-linecap="round"/>
<g stroke="#111" stroke-width="2.6" fill="none" stroke-linecap="butt" stroke-linejoin="round"><path d="M1013.5 246.3H1059M1028.9 237.9L1013.3 246.3L1028.9 254.9"/><path d="M1715 647.4H1760.5M1745 638.9L1761.2 647.4L1745 655.9"/></g>
<text x="1031.5" y="265.9" font-size="29.3" fill="#111" textLength="96" lengthAdjust="spacingAndGlyphs">1330.12</text>
<text x="1551.5" y="654.7" font-size="28.2" fill="#111" textLength="96.5" lengthAdjust="spacingAndGlyphs">1137.43</text>
<g class="v">
<rect x="125.2" y="937.8" width="15.6" height="25.2" fill="#fff" stroke="#d23e48" stroke-width="2"/>
<rect x="146.5" y="941.2" width="17" height="22.6" fill="#2f6b17"/>
<rect x="168.5" y="931.7" width="17" height="32.1" fill="#2f6b17"/>
<rect x="191.2" y="938.7" width="15.6" height="24.3" fill="#fff" stroke="#d23e48" stroke-width="2"/>
<rect x="212.5" y="936.1" width="17" height="27.7" fill="#2f6b17"/>
<rect x="234.5" y="936.1" width="17" height="27.7" fill="#2f6b17"/>
<rect x="256.5" y="939.9" width="17" height="23.9" fill="#2f6b17"/>
<rect x="279.2" y="924.4" width="15.6" height="38.6" fill="#fff" stroke="#d23e48" stroke-width="2"/>
<rect x="300.5" y="930.6" width="17" height="33.2" fill="#2f6b17"/>
<rect x="323.2" y="938.7" width="15.6" height="24.3" fill="#fff" stroke="#d23e48" stroke-width="2"/>
<rect x="344.5" y="930.1" width="17" height="33.7" fill="#2f6b17"/>
<rect x="367.2" y="927.6" width="15.6" height="35.4" fill="#fff" stroke="#d23e48" stroke-width="2"/>
<rect x="388.5" y="931.7" width="17" height="32.1" fill="#2f6b17"/>
<rect x="411.2" y="926" width="15.6" height="37" fill="#fff" stroke="#d23e48" stroke-width="2"/>
<rect x="432.5" y="936.1" width="17" height="27.7" fill="#2f6b17"/>
<rect x="454.5" y="936.8" width="17" height="27" fill="#2f6b17"/>
<rect x="477.2" y="931.6" width="15.6" height="31.4" fill="#fff" stroke="#d23e48" stroke-width="2"/>
<rect x="498.5" y="936.8" width="17" height="27" fill="#2f6b17"/>
<rect x="521.2" y="886" width="15.6" height="77" fill="#fff" stroke="#d23e48" stroke-width="2"/>
<rect x="543.2" y="906" width="15.6" height="57" fill="#fff" stroke="#d23e48" stroke-width="2"/>
<rect x="564.5" y="923.9" width="17" height="39.9" fill="#2f6b17"/>
<rect x="587.2" y="922.2" width="15.6" height="40.8" fill="#fff" stroke="#d23e48" stroke-width="2"/>
<rect x="608.5" y="912.8" width="17" height="51" fill="#2f6b17"/>
<rect x="631.2" y="908.9" width="15.6" height="54.1" fill="#fff" stroke="#d23e48" stroke-width="2"/>
<rect x="653.2" y="922.2" width="15.6" height="40.8" fill="#fff" stroke="#d23e48" stroke-width="2"/>
<rect x="674.5" y="928.3" width="17" height="35.5" fill="#2f6b17"/>
<rect x="696.5" y="931.2" width="17" height="32.6" fill="#2f6b17"/>
<rect x="719.2" y="877.1" width="15.6" height="85.9" fill="#fff" stroke="#d23e48" stroke-width="2"/>
<rect x="740.5" y="897.2" width="17" height="66.6" fill="#2f6b17"/>
<rect x="762.5" y="913.4" width="17" height="50.4" fill="#2f6b17"/>
<rect x="785.2" y="921.1" width="15.6" height="41.9" fill="#fff" stroke="#d23e48" stroke-width="2"/>
<rect x="806.5" y="903.4" width="17" height="60.4" fill="#2f6b17"/>
<rect x="828.5" y="917.2" width="17" height="46.6" fill="#2f6b17"/>
<rect x="850.5" y="920.1" width="17" height="43.7" fill="#2f6b17"/>
<rect x="873.2" y="930" width="15.6" height="33" fill="#fff" stroke="#d23e48" stroke-width="2"/>
<rect x="895.2" y="923.1" width="15.6" height="39.9" fill="#fff" stroke="#d23e48" stroke-width="2"/>
<rect x="917.2" y="886" width="15.6" height="77" fill="#fff" stroke="#d23e48" stroke-width="2"/>
<rect x="939.2" y="893.1" width="15.6" height="69.9" fill="#fff" stroke="#d23e48" stroke-width="2"/>
<rect x="961.2" y="873.1" width="15.6" height="89.9" fill="#fff" stroke="#d23e48" stroke-width="2"/>
<rect x="983.2" y="861.1" width="15.6" height="101.9" fill="#fff" stroke="#d23e48" stroke-width="2"/>
<rect x="1005.2" y="788.9" width="15.6" height="174.1" fill="#fff" stroke="#d23e48" stroke-width="2"/>
<rect x="1026.5" y="870.1" width="17" height="93.7" fill="#2f6b17"/>
<rect x="1048.5" y="909.4" width="17" height="54.4" fill="#2f6b17"/>
<rect x="1070.5" y="919.4" width="17" height="44.4" fill="#2f6b17"/>
<rect x="1093.2" y="899.3" width="15.6" height="63.7" fill="#fff" stroke="#d23e48" stroke-width="2"/>
<rect x="1114.5" y="919.4" width="17" height="44.4" fill="#2f6b17"/>
<rect x="1137.2" y="932" width="15.6" height="31" fill="#fff" stroke="#d23e48" stroke-width="2"/>
<rect x="1158.5" y="927.2" width="17" height="36.6" fill="#2f6b17"/>
<rect x="1180.5" y="925.4" width="17" height="38.4" fill="#2f6b17"/>
<rect x="1202.5" y="934.3" width="17" height="29.5" fill="#2f6b17"/>
<rect x="1224.5" y="933.4" width="17" height="30.4" fill="#2f6b17"/>
<rect x="1246.5" y="925.4" width="17" height="38.4" fill="#2f6b17"/>
<rect x="1269.2" y="927.1" width="15.6" height="35.9" fill="#fff" stroke="#d23e48" stroke-width="2"/>
<rect x="1291.2" y="937.1" width="15.6" height="25.9" fill="#fff" stroke="#d23e48" stroke-width="2"/>
<rect x="1312.5" y="928.8" width="17" height="35" fill="#2f6b17"/>
<rect x="1335.2" y="929.3" width="15.6" height="33.7" fill="#fff" stroke="#d23e48" stroke-width="2"/>
<rect x="1356.5" y="928.8" width="17" height="35" fill="#2f6b17"/>
<rect x="1379.2" y="928.9" width="15.6" height="34.1" fill="#fff" stroke="#d23e48" stroke-width="2"/>
<rect x="1401.2" y="929.8" width="15.6" height="33.2" fill="#fff" stroke="#d23e48" stroke-width="2"/>
<rect x="1422.5" y="939.9" width="17" height="23.9" fill="#2f6b17"/>
<rect x="1444.5" y="931" width="17" height="32.8" fill="#2f6b17"/>
<rect x="1467.2" y="940" width="15.6" height="23" fill="#fff" stroke="#d23e48" stroke-width="2"/>
<rect x="1489.2" y="930.9" width="15.6" height="32.1" fill="#fff" stroke="#d23e48" stroke-width="2"/>
<rect x="1510.5" y="932.3" width="17" height="31.5" fill="#2f6b17"/>
<rect x="1532.5" y="932.8" width="17" height="31" fill="#2f6b17"/>
<rect x="1555.2" y="940" width="15.6" height="23" fill="#fff" stroke="#d23e48" stroke-width="2"/>
<rect x="1576.5" y="929.4" width="17" height="34.4" fill="#2f6b17"/>
<rect x="1599.2" y="915.6" width="15.6" height="47.4" fill="#fff" stroke="#d23e48" stroke-width="2"/>
<rect x="1621.2" y="925.6" width="15.6" height="37.4" fill="#fff" stroke="#d23e48" stroke-width="2"/>
<rect x="1642.5" y="935.3" width="17" height="28.5" fill="#2f6b17"/>
<rect x="1664.5" y="935.3" width="17" height="28.5" fill="#2f6b17"/>
<rect x="1686.5" y="932" width="17" height="31.8" fill="#2f6b17"/>
<rect x="1708.5" y="932" width="17" height="31.8" fill="#2f6b17"/>
<rect x="1731.2" y="943.1" width="15.6" height="19.9" fill="#fff" stroke="#d23e48" stroke-width="2"/>
<rect x="1753.2" y="943.1" width="15.6" height="19.9" fill="#fff" stroke="#d23e48" stroke-width="2"/>
<rect x="1775.2" y="943.8" width="15.6" height="19.2" fill="#fff" stroke="#d23e48" stroke-width="2"/>
<rect x="1797.2" y="934.2" width="15.6" height="28.8" fill="#fff" stroke="#d23e48" stroke-width="2"/>
<rect x="1819.2" y="928.9" width="15.6" height="34.1" fill="#fff" stroke="#d23e48" stroke-width="2"/>
<rect x="1841.2" y="939.3" width="15.6" height="23.7" fill="#fff" stroke="#d23e48" stroke-width="2"/>
<rect x="1862.5" y="945" width="17" height="18.8" fill="#2f6b17"/>
<rect x="1884.5" y="945" width="17" height="18.8" fill="#2f6b17"/>
<rect x="1907.2" y="936" width="15.6" height="27" fill="#fff" stroke="#d23e48" stroke-width="2"/>
<rect x="1928.5" y="940.6" width="17" height="23.2" fill="#2f6b17"/>
<rect x="1951.2" y="944.2" width="15.6" height="18.8" fill="#fff" stroke="#d23e48" stroke-width="2"/>
<rect x="1972.5" y="939.4" width="17" height="24.4" fill="#2f6b17"/>
<rect x="1995.2" y="921.6" width="15.6" height="41.4" fill="#fff" stroke="#d23e48" stroke-width="2"/>
<rect x="2016.5" y="938.3" width="17" height="25.5" fill="#2f6b17"/>
<rect x="2038.5" y="943.2" width="17" height="20.6" fill="#2f6b17"/>
<rect x="2061.2" y="943.8" width="15.6" height="19.2" fill="#fff" stroke="#d23e48" stroke-width="2"/>
<rect x="2083.2" y="940.4" width="15.6" height="22.6" fill="#fff" stroke="#d23e48" stroke-width="2"/>
<rect x="2104.5" y="935.7" width="17" height="28.1" fill="#2f6b17"/>
<rect x="2127.2" y="941.6" width="15.6" height="21.4" fill="#fff" stroke="#d23e48" stroke-width="2"/>
<rect x="2149.2" y="943.3" width="15.6" height="19.7" fill="#fff" stroke="#d23e48" stroke-width="2"/>
</g>
<polyline points="133,926.6 155,928.8 177,930.6 199,932.8 221,936.1 243,936.8 265,936.1 287,933.9 309,932.8 331,931.7 353,930.1 375,928.3 397,929 419,928.3 441,927.9 463,929.4 485,930.6 507,931.2 529,923.9 551,918.3 573,915.4 595,913.4 617,908.8 639,913.9 661,916.8 683,917.2 705,919.4 727,912.8 749,909.4 771,908.3 793,906.1 815,901.2 837,909.4 859,913.9 881,917.2 903,918.3 925,914.6 947,909.4 969,900.6 991,886.1 1013,858.3 1035,855.4 1057,859 1079,868.3 1101,876.8 1123,902.8 1145,914.6 1167,917.7 1189,919.9 1211,926.6 1233,928.8 1255,928.3 1277,928.3 1299,930.1 1321,929.4 1343,928.3 1365,928.8 1387,929 1409,929.4 1431,931.2 1453,932.3 1475,933.2 1497,933.9 1519,933.9 1541,933.4 1563,933.4 1585,932.3 1607,930.1 1629,928.3 1651,928.2 1673,926.6 1695,927.6 1717,930.1 1739,933.9 1761,935 1783,936.8 1805,936.8 1827,936.8 1849,937.2 1871,937.7 1893,938.3 1915,939 1937,939.4 1959,939.9 1981,939.4 2003,935.7 2025,935.7 2047,936.1 2069,936.1 2091,936.1 2113,937.7 2135,938.3 2157,939" fill="none" stroke="#0a0a0a" stroke-width="2.2" stroke-linejoin="round" stroke-linecap="round"/>
<polyline points="133,925.7 155,927.2 177,928.3 199,929 221,929.4 243,930.6 265,931.2 287,931.2 309,931.7 331,932.8 353,933.4 375,931.7 397,931.2 419,930.6 441,929.9 463,930.1 485,930.1 507,930.1 529,926.6 551,923.9 573,922.8 595,921.2 617,919.4 639,917.7 661,916.8 683,916.8 705,916.1 727,911.7 749,911.7 771,912.3 793,911.7 815,911.2 837,910.6 859,911.7 881,912.3 903,911.7 925,907.9 947,907.9 969,905.7 991,900.6 1013,888.3 1035,885.7 1057,884.3 1079,883.9 1101,881.7 1123,881 1145,886.1 1167,888.3 1189,893.2 1211,901.2 1233,915 1255,921.2 1277,922.8 1299,925 1321,927.2 1343,927.9 1365,928.3 1387,928.8 1409,929.4 1431,929.9 1453,930.1 1475,931 1497,931.2 1519,931.2 1541,931.7 1563,932.3 1585,932.1 1607,931.7 1629,930.6 1651,930.4 1673,930.4 1695,930.5 1717,931 1739,931.3 1761,931.7 1783,931.7 1805,932.1 1827,933.4 1849,934.6 1871,935.7 1893,936.6 1915,937.2 1937,938.3 1959,938.8 1981,938.3 2003,936.1 2025,936.8 2047,937.7 2069,937.9 2091,937.7 2113,936.8 2135,937.2 2157,937.9" fill="none" stroke="#e8a31f" stroke-width="2.2" stroke-linejoin="round" stroke-linecap="round"/>
</svg>
<svg class="ico" width="2340" height="1080" viewBox="0 0 2340 1080">
<g stroke="#a9a9a9" stroke-width="2.5" fill="none"><path d="M133.3 47.5H176.1M133.3 64.1H160.7M133.3 80.3H176.1"/></g>
<path d="M166.7 55.6L176.3 64.1L166.7 72.6Z" fill="#a0a0a0"/>
<g stroke="#6e6e6e" stroke-width="3.4" fill="none" stroke-linecap="butt"><path d="M2119.5 40.5L2168.7 89.2M2168.7 40.5L2119.5 89.2"/></g>
<g stroke="#9a9a9a" stroke-width="2.5" fill="none" stroke-linecap="round"><path d="M2049.6 174.6A15.2 15.2 0 1 1 2077.2 174.6"/><path d="M2064 167.6L2071.2 161.2"/></g><circle cx="2063.4" cy="168.6" r="3.9" fill="#9a9a9a"/>
<g stroke="#7d7d7d" stroke-width="3" fill="none"><path d="M2286.3 301.9L2269.8 316L2286.3 330.7"/></g>
<rect x="2260.8" y="526.3" width="28.4" height="26.6" rx="5.5" fill="none" stroke="#888" stroke-width="3"/>
<g stroke="#8a8a8a" stroke-width="2.6" fill="none" stroke-linecap="round"><path d="M2262 751.1H2290M2262 763.7H2290M2262 775.9H2290"/></g>
<path d="M1230.8 1040L1243.9 1027.2L1257 1040Z" fill="#9a9a9a"/>
<path d="M1928 1080V1018Q1930 998 1948 994H2006Q2022 998 2024 1018V1080Z" fill="#fbfbfb"/>
<path d="M1959.3 1030V1046.7A18 18 0 0 0 1995.3 1046.7V1030Z" fill="#f5a39f"/>
<defs><linearGradient id="rg" x1="0" y1="0" x2="0" y2="1"><stop offset="0" stop-color="#f35a5c"/><stop offset="1" stop-color="#e8464c"/></linearGradient></defs>
<circle cx="1977.3" cy="1030" r="18.1" fill="url(#rg)"/>
</svg>
<header class="quote">
<span id="t_name" class="t" style="left:199.70px;top:17.85px;font-size:40.07px;color:#333333;transform:scaleX(1.0085);">证券</span>
<span id="t_code" class="t" style="left:200.20px;top:80.10px;font-size:35.19px;color:#333333;transform:scaleX(0.9891);">881157</span>
<span id="t_price" class="t b" style="left:459.10px;top:5.95px;font-size:69.99px;color:#3a9e2c;transform:scaleX(0.9013);">1191.60</span>
<span id="t_chg" class="t m" style="left:457.30px;top:82.18px;font-size:42.20px;color:#3a9e2c;transform:scaleX(0.9483);">−2.38</span>
<span id="t_pct" class="t m" style="left:584.70px;top:82.18px;font-size:42.20px;color:#3a9e2c;transform:scaleX(0.9407);">−0.20%</span>
<span id="t_hi_l" class="t" style="left:929.10px;top:19.66px;font-size:42.60px;color:#333333;transform:scaleX(1.0074);">高</span>
<span id="t_hi" class="t m" style="left:986.15px;top:18.08px;font-size:42.20px;color:#dc3a40;transform:scaleX(0.9673);">1198.79</span>
<span id="t_lo_l" class="t" style="left:929.80px;top:84.00px;font-size:42.60px;color:#333333;transform:scaleX(0.9571);">低</span>
<span id="t_lo" class="t m" style="left:986.15px;top:82.18px;font-size:42.20px;color:#3a9e2c;transform:scaleX(0.9646);">1186.65</span>
<span id="t_op_l" class="t" style="left:1301.65px;top:19.66px;font-size:42.60px;color:#333333;transform:scaleX(1.0094);">开</span>
<span id="t_op" class="t m" style="left:1359.35px;top:18.08px;font-size:42.20px;color:#3a9e2c;transform:scaleX(0.9663);">1189.97</span>
<span id="t_amt_l" class="t" style="left:1302.15px;top:84.00px;font-size:42.60px;color:#333333;transform:scaleX(0.9752);">额</span>
<span id="t_amt" class="t m" style="left:1357.35px;top:82.18px;font-size:42.20px;color:#333333;transform:scaleX(0.9661);">89.67</span>
<span id="t_amt_u" class="t m" style="left:1458.75px;top:84.00px;font-size:42.60px;color:#333333;transform:scaleX(0.9918);">亿</span>
<span id="t_vol_l" class="t" style="left:1673.90px;top:19.66px;font-size:42.60px;color:#333333;transform:scaleX(0.9969);">量</span>
<span id="t_vol" class="t m" style="left:1729.50px;top:18.08px;font-size:42.20px;color:#333333;transform:scaleX(0.9531);">941.7</span>
<span id="t_vol_u" class="t m" style="left:1831.55px;top:19.66px;font-size:42.60px;color:#333333;transform:scaleX(0.9716);">万</span>
</header>
<section class="kline">
<span id="t_m5" class="t" style="left:120.75px;top:158.15px;font-size:39.25px;color:#111111;transform:scaleX(0.9977);">M5:1193.26</span>
<span id="t_m10" class="t" style="left:342.00px;top:158.15px;font-size:39.25px;color:#e8a31f;transform:scaleX(0.9620);">M10:1190.51</span>
<span id="t_m20" class="t" style="left:576.05px;top:158.15px;font-size:39.25px;color:#ee5c75;transform:scaleX(0.9948);">M20:1179.22</span>
<span id="t_m30" class="t" style="left:817.45px;top:158.15px;font-size:39.25px;color:#67bf45;transform:scaleX(1.0053);">M30:1178.50</span>
<span id="t_ind" class="t" style="left:2086.40px;top:151.25px;font-size:34.78px;color:#666666;transform:scaleX(0.9960);">指标</span>
<span id="t_d1" class="t" style="left:122.15px;top:699.75px;font-size:30.72px;color:#444444;transform:scaleX(1.1615);">2023/03/08</span>
<span id="t_d2" class="t" style="left:2011.05px;top:699.75px;font-size:30.72px;color:#444444;transform:scaleX(1.1431);">2023/07/24</span>
</section>
<section class="volume">
<span id="t_v1" class="t" style="left:123.35px;top:742.85px;font-size:37.60px;color:#d9363e;transform:scaleX(1.0108);">总手:941.7万</span>
<span id="t_v2" class="t" style="left:363.20px;top:742.85px;font-size:37.60px;color:#d9363e;transform:scaleX(1.0537);">额:89.67亿</span>
<span id="t_v3" class="t" style="left:566.95px;top:742.85px;font-size:37.60px;color:#111111;transform:scaleX(1.0406);">M5:1108.9万</span>
<span id="t_v4" class="t" style="left:807.00px;top:742.85px;font-size:37.60px;color:#e8a31f;transform:scaleX(1.0086);">M10:1179.9万</span>
<span id="t_v5" class="t" style="left:1064.10px;top:742.85px;font-size:37.60px;color:#333333;transform:scaleX(1.0536);">换:</span>
<span id="t_v6" class="t" style="left:1113.45px;top:738.50px;font-size:38.00px;color:#3b9fe6;transform:scaleX(1.8806);">--</span>
</section>
<nav class="tabs">
<span id="t_tab1" class="t" style="left:155.95px;top:1017.60px;font-size:39.40px;color:#333333;transform:scaleX(1.0175);">分时</span>
<span id="t_tab2" class="t" style="left:358.55px;top:1017.60px;font-size:39.40px;color:#333333;transform:scaleX(1.0778);">5日</span>
<span id="t_tab3" class="t m" style="left:549.90px;top:1017.60px;font-size:39.40px;color:#e03535;transform:scaleX(1.0101);">日K</span>
<span id="t_tab4" class="t" style="left:746.95px;top:1017.60px;font-size:39.40px;color:#333333;transform:scaleX(0.9726);">周K</span>
<span id="t_tab5" class="t" style="left:941.05px;top:1017.60px;font-size:39.40px;color:#333333;transform:scaleX(0.9741);">月K</span>
<span id="t_tab6" class="t" style="left:1107.00px;top:1017.60px;font-size:39.40px;color:#333333;transform:scaleX(1.0143);">更多</span>
<div class="tabline"></div>
<div class="btn" style="left:1551px"></div><span id="t_b1" class="t" style="left:1594.10px;top:1018.46px;font-size:32.80px;color:#999999;transform:scaleX(1.0000);">筹码</span>
<div class="btn" style="left:1737.8px"></div><span id="t_b2" class="t" style="left:1780.60px;top:1018.46px;font-size:32.80px;color:#999999;transform:scaleX(0.9910);">画线</span>
<span id="t_add" class="t" style="left:2054.10px;top:1018.05px;font-size:37.69px;color:#3a86d8;transform:scaleX(0.9917);">加自选</span>
</nav>
</body></html>
